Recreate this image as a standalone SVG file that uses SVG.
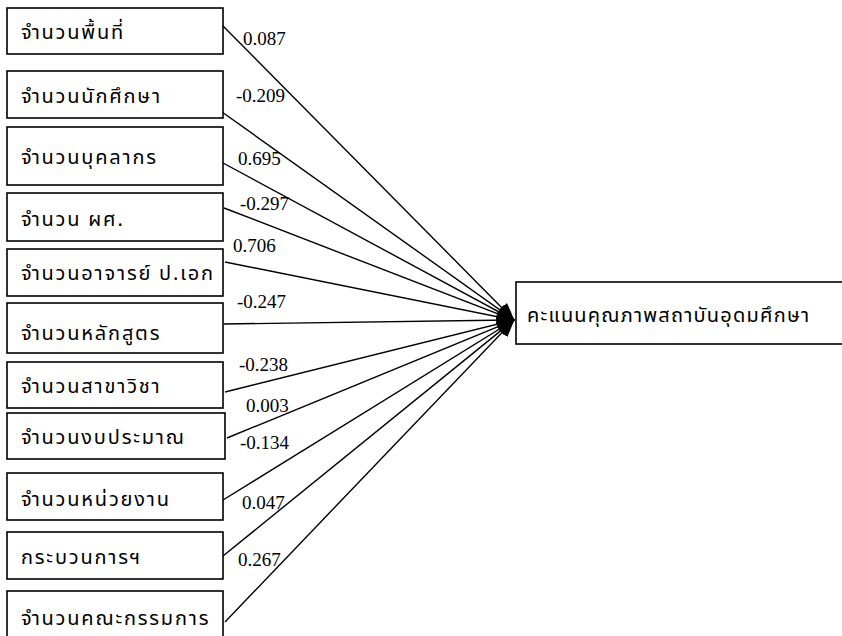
<svg xmlns="http://www.w3.org/2000/svg" width="842" height="636" viewBox="0 0 842 636">
<style>
.box{fill:#fff;stroke:#000;stroke-width:1.6}
.lbl{font-family:"Noto Sans Thai","Noto Sans","DejaVu Sans",sans-serif;font-size:20px;letter-spacing:1.8px;fill:#000}
.tl{letter-spacing:1.2px}
.num{font-family:"Liberation Serif",serif;font-size:19px;fill:#000}
.edge{stroke:#000;stroke-width:1.4;fill:none;marker-end:url(#ah)}
</style>
<defs>
<marker id="ah" markerUnits="userSpaceOnUse" markerWidth="18" markerHeight="14" refX="17" refY="7" orient="auto">
<path d="M0,0 L18,7 L0,14 Z" fill="#000"/>
</marker>
</defs>
<rect width="842" height="636" fill="#fff"/>
<g id="edges">
<line class="edge" x1="222" y1="25" x2="514" y2="320"/>
<line class="edge" x1="222" y1="112" x2="514" y2="320"/>
<line class="edge" x1="223" y1="163" x2="514" y2="320"/>
<line class="edge" x1="224" y1="208" x2="514" y2="320"/>
<line class="edge" x1="225" y1="262" x2="514" y2="320"/>
<line class="edge" x1="224" y1="324" x2="514" y2="320"/>
<line class="edge" x1="225" y1="392" x2="514" y2="320"/>
<line class="edge" x1="227" y1="438" x2="514" y2="320"/>
<line class="edge" x1="223" y1="500" x2="514" y2="320"/>
<line class="edge" x1="223" y1="556" x2="514" y2="320"/>
<line class="edge" x1="225" y1="622" x2="514" y2="320"/>
</g>
<g id="n1"><rect class="box" x="7" y="8" width="216" height="46"/><text class="lbl" x="21" y="39">จำนวนพื้นที่</text></g>
<g id="n2"><rect class="box" x="7" y="71" width="216" height="47"/><text class="lbl" x="21" y="103">จำนวนนักศึกษา</text></g>
<g id="n3"><rect class="box" x="7" y="127" width="216" height="58"/><text class="lbl" x="21" y="164">จำนวนบุคลากร</text></g>
<g id="n4"><rect class="box" x="7" y="193" width="216" height="48"/><text class="lbl" x="21" y="226">จำนวน ผศ.</text></g>
<g id="n5"><rect class="box" x="7" y="249" width="216" height="47"/><text class="lbl" x="21" y="280">จำนวนอาจารย์ ป.เอก</text></g>
<g id="n6"><rect class="box" x="7" y="303" width="216" height="50"/><text class="lbl" x="21" y="340">จำนวนหลักสูตร</text></g>
<g id="n7"><rect class="box" x="7" y="362" width="216" height="46"/><text class="lbl" x="21" y="393">จำนวนสาขาวิชา</text></g>
<g id="n8"><rect class="box" x="7" y="413" width="218" height="46"/><text class="lbl" x="21" y="444">จำนวนงบประมาณ</text></g>
<g id="n9"><rect class="box" x="7" y="473" width="216" height="47"/><text class="lbl" x="21" y="506">จำนวนหน่วยงาน</text></g>
<g id="n10"><rect class="box" x="7" y="532" width="216" height="47"/><text class="lbl" x="21" y="564">กระบวนการฯ</text></g>
<g id="n11"><rect class="box" x="7" y="591" width="216" height="60"/><text class="lbl" x="21" y="625">จำนวนคณะกรรมการ</text></g>
<g id="target"><rect class="box" x="516" y="282" width="340" height="62"/><text class="lbl tl" x="527" y="322">คะแนนคุณภาพสถาบันอุดมศึกษา</text></g>
<g id="labels">
<text class="num" x="243" y="45">0.087</text>
<text class="num" x="236" y="102">-0.209</text>
<text class="num" x="238" y="165">0.695</text>
<text class="num" x="240" y="210">-0.297</text>
<text class="num" x="233" y="252">0.706</text>
<text class="num" x="237" y="308">-0.247</text>
<text class="num" x="239" y="371">-0.238</text>
<text class="num" x="246" y="412">0.003</text>
<text class="num" x="240" y="449">-0.134</text>
<text class="num" x="242" y="509">0.047</text>
<text class="num" x="238" y="566">0.267</text>
</g>
</svg>
